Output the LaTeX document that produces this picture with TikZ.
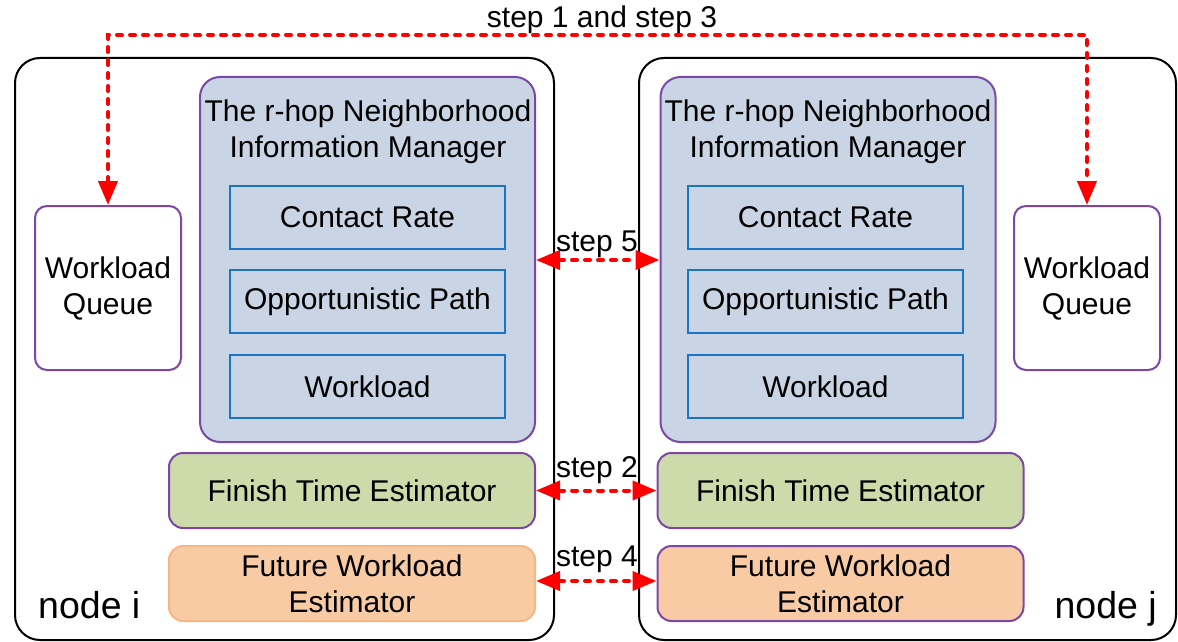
\documentclass[tikz,border=0pt]{standalone}
\usepackage{fontspec}
\setmainfont{Liberation Sans}
\usetikzlibrary{arrows.meta}
\definecolor{mgrfill}{HTML}{C9D5E5}
\definecolor{purpleline}{HTML}{7B48A8}
\definecolor{blueline}{HTML}{1C74C4}
\definecolor{greenfill}{HTML}{CDDAA9}
\definecolor{orangefill}{HTML}{F8CBA5}
\definecolor{orangeline}{HTML}{F5B686}
\definecolor{stepred}{HTML}{FF0000}
\tikzset{
  host/.style={draw=black, line width=2pt, rounded corners=25pt, fill=white},
  manager/.style={draw=purpleline, line width=2pt, rounded corners=20pt, fill=mgrfill,
    minimum width=335pt, minimum height=365pt},
  infobox/.style={draw=blueline, line width=2pt, fill=mgrfill,
    minimum width=275pt, minimum height=63pt},
  queuebox/.style={draw=purpleline, line width=2pt, rounded corners=12pt, fill=white,
    minimum width=146pt, minimum height=164pt, align=center},
  finishbox/.style={draw=purpleline, line width=2pt, rounded corners=14pt, fill=greenfill,
    minimum width=366pt, minimum height=75pt},
  futurebox/.style={line width=2pt, rounded corners=14pt, fill=orangefill,
    minimum width=366pt, minimum height=75pt, align=center},
  txt/.style={font=\fontsize{30}{36}\selectfont, inner sep=0pt},
  hostlabel/.style={font=\fontsize{37.5}{42}\selectfont, inner sep=0pt},
  redtip/.tip={Triangle[length=24pt,width=19pt,fill=stepred,line cap=butt,sep=0pt]},
  steparrow/.style={draw=stepred, line width=4pt, line cap=round,
    dash pattern=on 5pt off 8pt, {redtip}-{redtip}},
}
\begin{document}
\begin{tikzpicture}[x=1pt, y=-1pt, every node/.style={font=\fontsize{30}{36}\selectfont}]
\useasboundingbox (0,0) rectangle (1178,642);

% the two hosts
\draw[host] (15,58) rectangle (554,640);
\draw[host] (639,58) rectangle (1176,640);
\node[hostlabel, anchor=base west] (labi) at (38,618) {node i};
\node[hostlabel, anchor=base east] (labj) at (1157,618) {node j};

% node i components
\node[manager] (mgrL) at (367.5,259.5) {};
\node[txt, align=center] (mgrLt) at (368,132) {The r-hop Neighborhood\\Information Manager};
\node[infobox] (crL) at (367.5,217.5) {Contact Rate};
\node[infobox] (opL) at (367.5,301.5) {Opportunistic Path};
\node[infobox] (wlL) at (367.5,386.5) {Workload};
\node[queuebox] (wqL) at (108,288) {Workload\\Queue};
\node[finishbox] (ftL) at (352,490.5) {Finish Time Estimator};
\node[futurebox, draw=orangeline] (fwL) at (352,583.5) {Future Workload\\Estimator};

% node j components
\node[manager] (mgrR) at (828,259.5) {};
\node[txt, align=center] (mgrRt) at (828,132) {The r-hop Neighborhood\\Information Manager};
\node[infobox] (crR) at (825.5,217.5) {Contact Rate};
\node[infobox] (opR) at (825.5,301.5) {Opportunistic Path};
\node[infobox] (wlR) at (825.5,386.5) {Workload};
\node[queuebox] (wqR) at (1087,288) {Workload\\Queue};
\node[finishbox] (ftR) at (840.5,490.5) {Finish Time Estimator};
\node[futurebox, draw=purpleline] (fwR) at (840.5,583.5) {Future Workload\\Estimator};

% exchange steps
\coordinate (topL) at (108,35);
\coordinate (topR) at (1087,35);
\draw[steparrow] (wqL.north) -- (topL) -- (topR) -- (wqR.north);
\node[txt, anchor=base] (s13) at (602,28) {step 1 and step 3};

\draw[steparrow] (mgrL.east |- 0,260) -- (mgrR.west |- 0,260);
\node[txt, anchor=base] (s5) at (597,251) {step 5};

\draw[steparrow] (ftL.east) -- (ftR.west);
\node[txt, anchor=base] (s2) at (597,477) {step 2};

\draw[steparrow] (fwL.east |- 0,581) -- (fwR.west |- 0,581);
\node[txt, anchor=base] (s4) at (597,566) {step 4};
\end{tikzpicture}
\end{document}
